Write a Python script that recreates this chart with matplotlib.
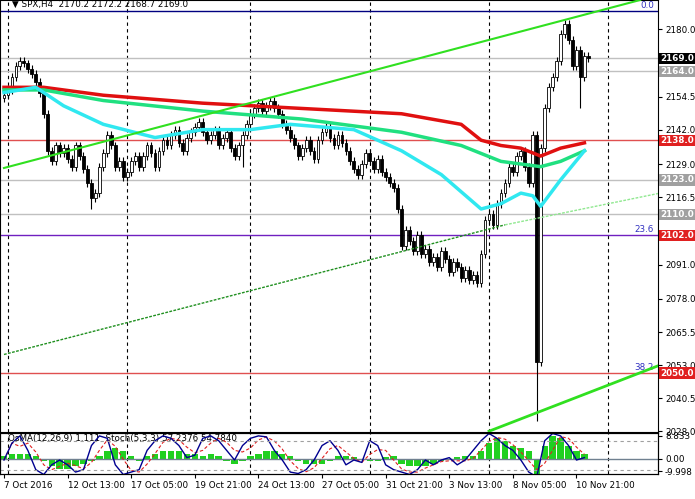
import matplotlib
matplotlib.use("Agg")
import matplotlib.pyplot as plt
import numpy as np

# closes per H4 bar
closes = [2155, 2157, 2162, 2166, 2168, 2167, 2165, 2163, 2160, 2156,
          2148, 2134, 2130, 2136, 2133, 2135, 2131, 2128, 2136, 2132,
          2127, 2122, 2116, 2118, 2128, 2133, 2140, 2136, 2128, 2130,
          2124, 2126, 2130, 2132, 2128, 2132, 2136, 2133, 2128, 2134,
          2138, 2136, 2140, 2142, 2137, 2134, 2139, 2141, 2143, 2145,
          2141, 2138, 2140, 2142, 2136, 2139, 2141, 2135, 2132, 2136,
          2140, 2144, 2148, 2150, 2152, 2149, 2151, 2153, 2150, 2148,
          2144, 2142, 2139, 2136, 2132, 2135, 2138, 2134, 2131, 2138,
          2141, 2143, 2139, 2136, 2140, 2137, 2134, 2130, 2127, 2125,
          2129, 2133, 2130, 2127, 2131, 2126, 2124, 2122, 2120, 2112,
          2098, 2104, 2100, 2096, 2102, 2095, 2097, 2092, 2094, 2090,
          2096, 2093, 2088, 2092, 2090, 2086, 2089, 2085, 2087, 2084,
          2095, 2108, 2110, 2106, 2114, 2118, 2122, 2128, 2126, 2132,
          2134, 2128, 2122, 2140, 2054, 2135, 2150, 2158, 2162, 2168,
          2178, 2182, 2176, 2166, 2172, 2162, 2170, 2169]
first_open = 2154
low_spikes = {134: 2032, 145: 2150, 22: 2112, 60: 2128}

# moving averages, sampled at bar indices
ma_idx = [0, 10, 25, 50, 75, 100, 115, 120, 125, 130, 135, 140, 146]
ma_red = [2158, 2158, 2155, 2152, 2150, 2148, 2144, 2138, 2136, 2135, 2132, 2135, 2137]
ma_green = [2157, 2157, 2153, 2149, 2146, 2141, 2136, 2133, 2130, 2129, 2128, 2130, 2134]
cyan_idx = [0, 8, 15, 25, 38, 50, 62, 72, 88, 100, 110, 120, 125, 130, 133, 135, 140, 146]
ma_cyan = [2156, 2158, 2151, 2144, 2139, 2142, 2142, 2144, 2142, 2134, 2125, 2112, 2114, 2118, 2117, 2113, 2123, 2134]

# horizontal levels: (price, line colour, label colour)
levels = [(2169.0, "#c0c0c0", "black"), (2164.0, "#c0c0c0", "#a0a0a0"),
          (2138.0, "#e05050", "#e02020"), (2123.0, "#c0c0c0", "#a0a0a0"),
          (2110.0, "#c0c0c0", "#a0a0a0"), (2102.0, "#7020c0", "#e02020"),
          (2050.0, "#e05050", "#e02020")]
price_ticks = [2180.0, 2154.5, 2142.0, 2129.0, 2116.5, 2091.0, 2078.0, 2065.5, 2053.0, 2040.5, 2028.0]

# indicator window, every second bar
osma = [1, 2, 2, 2, 1, -1, -3, -4, -4, -3, -2, -1, 1, 3, 4, 3, 1, -1,
        1, 2, 3, 3, 3, 2, 2, 1, 2, 1, -1, -2, -1, 1, 2, 3, 3, 2, 1, -1,
        -2, -2, -2, -1, 1, 1, 0.5, -0.5, -1, -1, 0.5, 1, -2, -3, -3, -3, -2, -1,
        -0.5, 0.5, 1, 1, 3, 6, 8, 7, 5, 4, 3, -8, 5, 9, 8, 5, 3, 2]
stoch = [40, 75, 90, 60, 20, 10, 30, 40, 30, 15,
         20, 70, 90, 85, 30, 10, 15, 20, 60, 80,
         90, 85, 70, 45, 50, 85, 90, 80, 60, 40,
         70, 85, 90, 88, 60, 40, 15, 12, 20, 40,
         70, 80, 60, 30, 40, 35, 80, 70, 30, 20,
         15, 10, 20, 40, 30, 40, 45, 30, 40, 60,
         80, 95, 85, 70, 60, 40, 15, 5, 80, 95, 90, 70, 40, 45]

date_labels = ["7 Oct 2016", "12 Oct 13:00", "17 Oct 05:00", "19 Oct 21:00", "24 Oct 13:00",
               "27 Oct 05:00", "31 Oct 21:00", "3 Nov 13:00", "8 Nov 05:00", "10 Nov 21:00"]

FS = 6.3
W, H = 695, 499
fig = plt.figure(figsize=(W / 100, H / 100), dpi=100)
R = 658 / W
ax = fig.add_axes([0, (H - 432) / H, R, 432 / H])
axi = fig.add_axes([0, (H - 474) / H, R, 41 / H], sharex=ax)

n = len(closes)
opens = [first_open] + closes[:-1]
for i in range(n):
    o, c = opens[i], closes[i]
    hi = max(o, c) + 1.5
    lo = min(low_spikes.get(i, min(o, c) - 1.5), min(o, c) - 1.5)
    ax.vlines(i, lo, hi, color="black", lw=0.8, zorder=3)
    face = "white" if c >= o else "black"
    ax.bar(i, max(abs(c - o), 0.4), bottom=min(o, c), width=0.7,
           facecolor=face, edgecolor="black", lw=0.6, zorder=4)

ax.plot(ma_idx, ma_red, color="#e01010", lw=2.5, zorder=5)
ax.plot(ma_idx, ma_green, color="#20e080", lw=2.5, zorder=5)
ax.plot(cyan_idx, ma_cyan, color="#30e8f0", lw=2.5, zorder=5)

# trend lines
ax.plot([0, 160], [2127.5, 2191], color="#30e020", lw=1.5, zorder=6)
ax.plot([0, 126], [2057, 2106], color="#209020", lw=1, ls=(0, (2, 1)), zorder=6)
ax.plot([126, 165], [2106, 2118], color="#90e890", lw=1, ls=(0, (2, 1)), zorder=6)
ax.plot([122, 165], [2028, 2053], color="#30e020", lw=2, zorder=6)

for p, col, lc in levels:
    ax.axhline(p, color=col, lw=1, zorder=2)
    ax.text(1.004, p, f"{p:.1f}", transform=ax.get_yaxis_transform(), va="center",
            ha="left", fontsize=FS, color="white", fontweight="bold", clip_on=False,
            bbox=dict(facecolor=lc, edgecolor="none", pad=0.8), zorder=10)
ax.axhline(2187, color="#000080", lw=1, zorder=2)
ax.text(163.5, 2187.3, "0.0", color="#3030c0", fontsize=FS, ha="right", va="bottom")
ax.text(163.5, 2102.5, "23.6", color="#3030c0", fontsize=FS, ha="right", va="bottom")
ax.text(163.5, 2050.5, "38.2", color="#3030c0", fontsize=FS, ha="right", va="bottom")

grid_x = [1, 31, 62, 92, 122, 152]
for a in (ax, axi):
    for gx in grid_x:
        a.axvline(gx, color="black", lw=0.8, ls=(0, (3, 3)), zorder=1)

ax.set_xlim(-1, 164.5)
ax.set_ylim(2027.7, 2191)
ax.yaxis.tick_right()
ax.set_yticks(price_ticks)
ax.set_yticklabels([f"{t:.1f}" for t in price_ticks], fontsize=FS)
ax.tick_params(axis="y", length=3, pad=2)
ax.tick_params(axis="x", bottom=False, labelbottom=False)
ax.text(2, 2189.5, "\u25bc SPX,H4  2170.2 2172.2 2168.7 2169.0", fontsize=FS, va="center")

# indicator panel
xi = np.arange(0, n, 2)[:len(osma)]
axi.bar(xi, osma, width=1.6, color="#20d020", zorder=2)
axi.axhline(0, color="#708090", lw=1)
axi.set_ylim(-6, 10)
axs = axi.twinx()
axs.set_ylim(11, 96)
signal = np.convolve(stoch, np.ones(3) / 3, mode="full")[:len(stoch)]
signal[:2] = stoch[:2]
axs.plot(xi, signal, color="#e02020", lw=0.8, ls=(0, (3, 2)))
axs.plot(xi, stoch, color="#000090", lw=1)
for lv in (80, 20):
    axs.axhline(lv, color="#a0a0a0", lw=0.8, ls=(0, (3, 3)))
axs.set_yticks([])
axi.yaxis.tick_right()
axi.set_yticks([8.833, 0, -9.998 * 0.5])
axi.set_yticklabels(["8.833", "0.00", "-9.998"], fontsize=FS)
axi.tick_params(axis="y", length=3, pad=2, left=False, labelleft=False, right=True, labelright=True)
axi.text(1, 8, "OsMA(12,26,9) 1.111  Stoch(5,3,3) 57.2376 54.7840", fontsize=FS, va="center", zorder=5)

axi.set_xticks(np.arange(0, 16 * len(date_labels), 16))
axi.set_xticklabels(date_labels, fontsize=FS, ha="left")
axi.tick_params(axis="x", length=3, pad=2)

plt.savefig("out.png", dpi=100)
